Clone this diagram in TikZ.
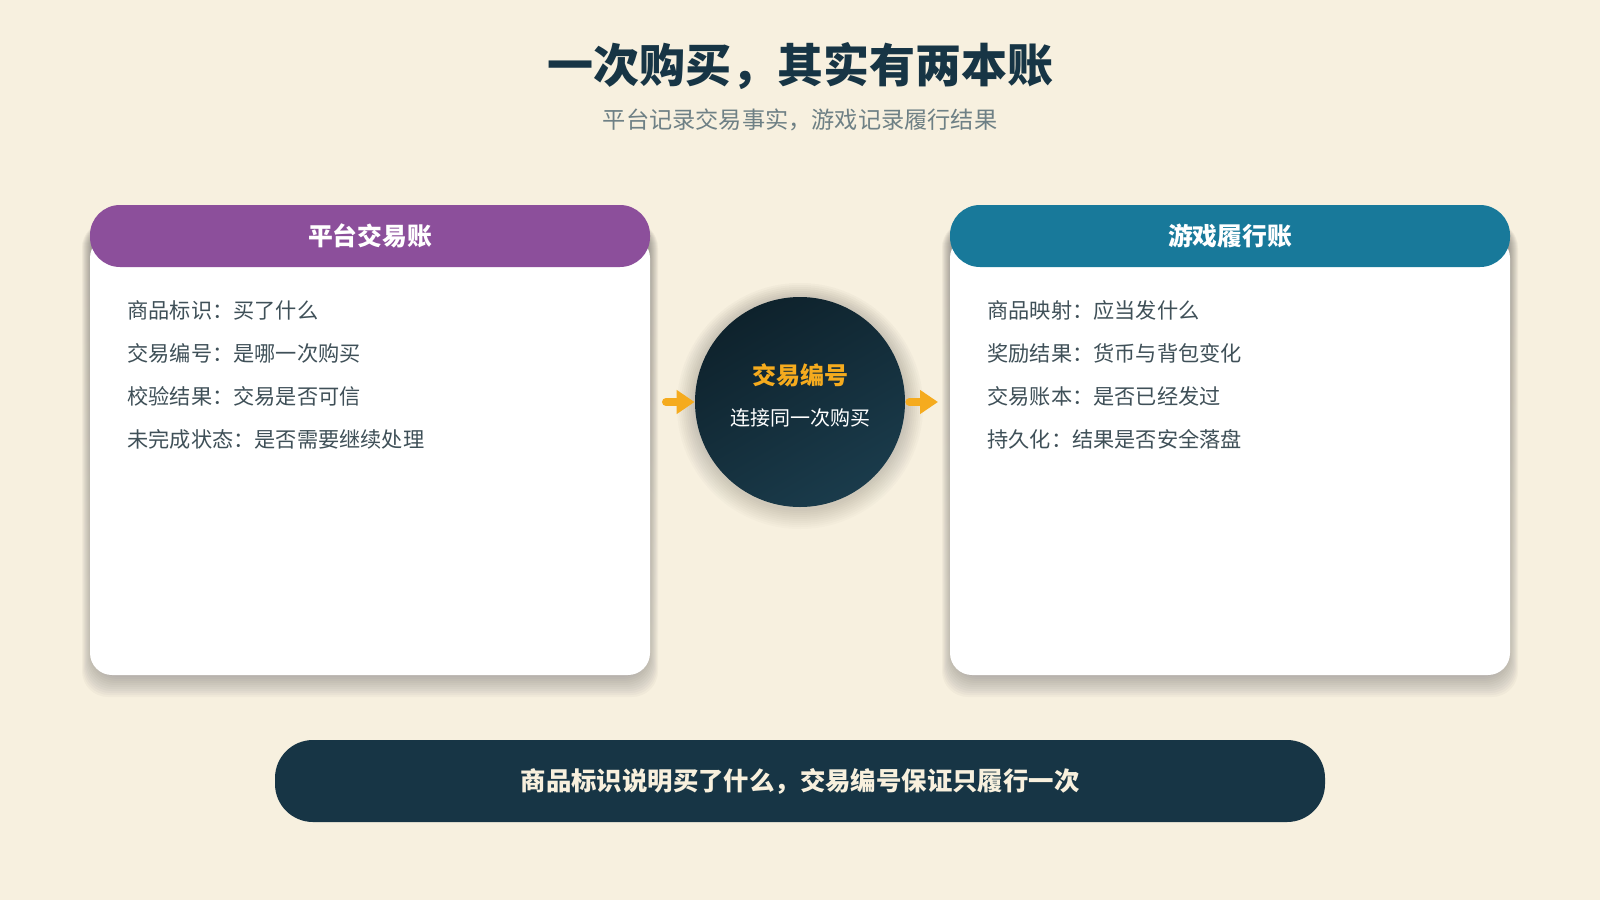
\documentclass[tikz,border=0pt]{standalone}
\usepackage{fontspec}
\setmainfont{Noto Sans CJK SC}
\usepackage{tikz}
\usetikzlibrary{arrows.meta}
\usetikzlibrary{positioning}
\definecolor{paper}{HTML}{F7F0DF}
\definecolor{ink}{HTML}{173545}
\definecolor{mist}{HTML}{6E8085}
\definecolor{plum}{HTML}{8C4F9B}
\definecolor{sea}{HTML}{18799A}
\definecolor{amber}{HTML}{F5AB1E}
\definecolor{slate}{HTML}{3F5058}
\definecolor{cream}{HTML}{F8F0DD}
\definecolor{shade}{HTML}{B5A582}
\definecolor{hubdark}{HTML}{0E222C}
\definecolor{hublight}{HTML}{1A3B4B}
\tikzstyle{ledger}=[rectangle,fill=white,rounded corners=11pt,minimum width=280pt,minimum height=219.5pt,inner sep=0pt]
\tikzstyle{ledgerhead}=[rectangle,rounded corners=15pt,minimum width=280pt,minimum height=31pt,inner sep=0pt,text=white,font=\bfseries\fontsize{12.4pt}{14pt}\selectfont]
\tikzstyle{item}=[anchor=west,inner sep=0pt,text=slate,font=\fontsize{10.6pt}{12pt}\selectfont]
\tikzstyle{flow}=[-{Triangle[length=9pt,width=11.5pt]},amber,line width=4pt,line cap=round]

\begin{document}
\begin{tikzpicture}[x=0.5pt,y=-0.5pt]
      \fill[paper] (0,0) rectangle (1600,900);
      \useasboundingbox (0,0) rectangle (1600,900);
      % heading
      \node[text=ink,font=\bfseries\fontsize{23pt}{27pt}\selectfont] (title) at (800,66) {一次购买，其实有两本账};
      \node[text=mist,font=\fontsize{11.6pt}{14pt}\selectfont] (subtitle) at (800,120) {平台记录交易事实，游戏记录履行结果};
      % soft shadows
      \foreach \c in {370,1230}
        \foreach \i in {1,...,12}
          \fill[shade,opacity=0.028,rounded corners=13pt] (\c-280-\i+4,222) rectangle (\c+280+\i-4,673+2*\i);
      \foreach \i in {1,...,10}
        \fill[shade,opacity=0.014] (800,406) circle[radius=103+2*\i];
      % the two ledgers
      \node[ledger] (platform) at (370,455.5) {};
      \node[ledger] (game) at (1230,455.5) {};
      \node[ledgerhead,fill=plum,anchor=north] (platformhead) at ([yshift=15.5pt]platform.north) {平台交易账};
      \node[ledgerhead,fill=sea,anchor=north] (gamehead) at ([yshift=15.5pt]game.north) {游戏履行账};
      \foreach \t [count=\k] in {商品标识：买了什么,交易编号：是哪一次购买,校验结果：交易是否可信,未完成状态：是否需要继续处理}
        \node[item] (p\k) at (127,267+43*\k) {\t};
      \foreach \t [count=\k] in {商品映射：应当发什么,奖励结果：货币与背包变化,交易账本：是否已经发过,持久化：结果是否安全落盘}
        \node[item] (g\k) at (987,267+43*\k) {\t};
      % the shared key
      \node[circle,minimum size=105pt,inner sep=0pt,top color=hubdark,bottom color=hublight,shading angle=30] (hub) at (800,402) {};
      \node[text=amber,font=\bfseries\fontsize{12pt}{14pt}\selectfont] (hubtitle) at (800,375) {交易编号};
      \node[text=white,font=\fontsize{10pt}{12pt}\selectfont] (hubnote) at (800,418) {连接同一次购买};
      \coordinate (inflow) at (666,402);
      \coordinate (outflow) at (938,402);
      \draw[flow] (inflow) -- (hub.west);
      \draw[flow] ([xshift=2pt]hub.east) -- (outflow);
      % summary bar
      \node[rectangle,rounded corners=19pt,fill=ink,minimum width=525pt,minimum height=41pt,text=cream,font=\bfseries\fontsize{12.7pt}{14pt}\selectfont] (summary) at (800,781) {商品标识说明买了什么，交易编号保证只履行一次};
\end{tikzpicture}
\end{document}
